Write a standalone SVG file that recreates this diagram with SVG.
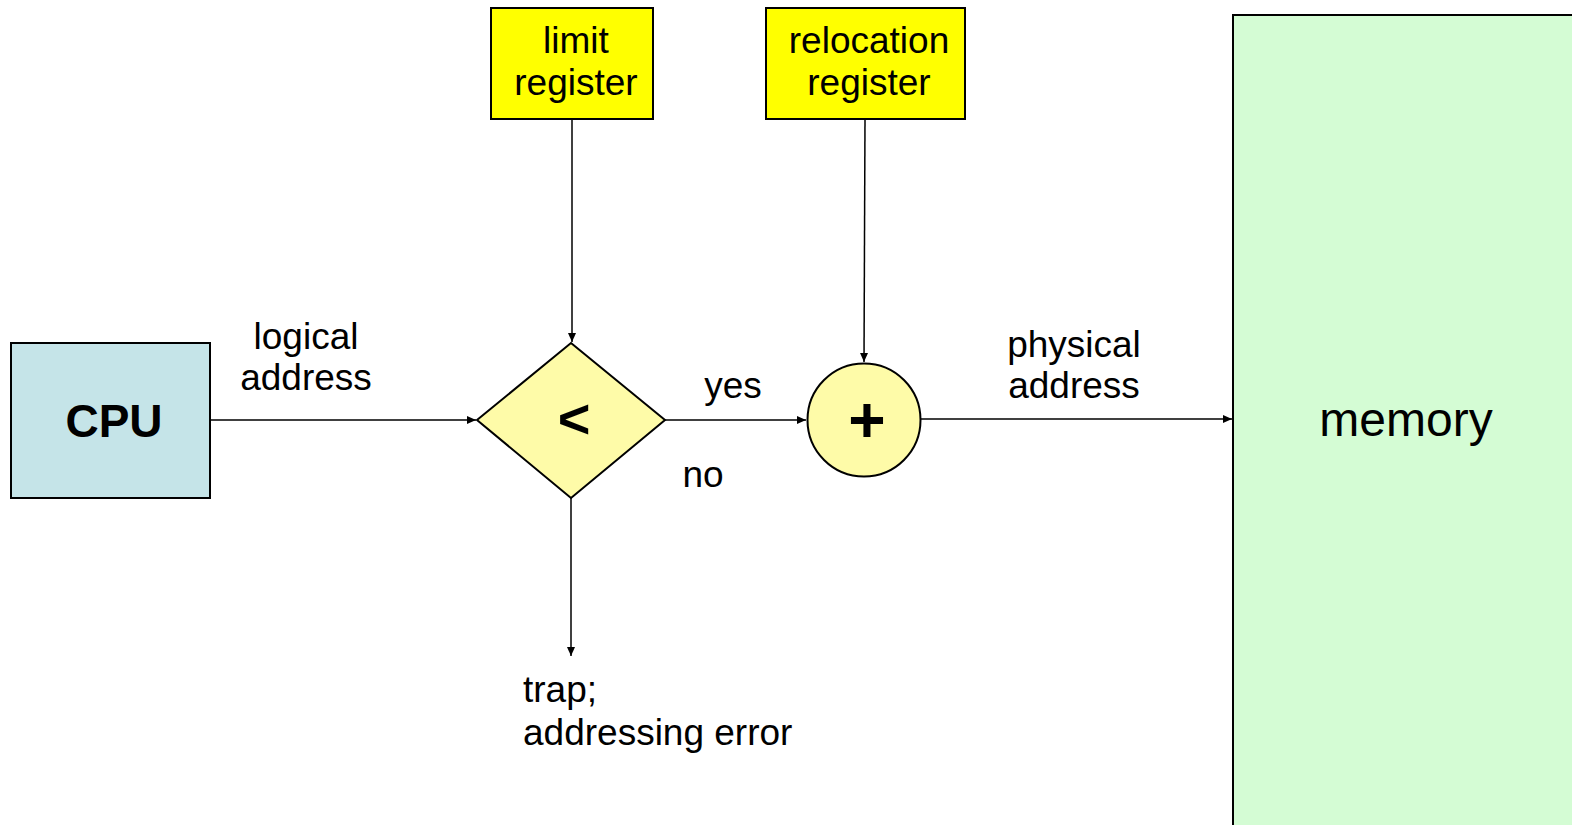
<svg xmlns="http://www.w3.org/2000/svg" width="1572" height="825" viewBox="0 0 1572 825">
<defs>
<style>
.t{font-family:"Liberation Sans",Arial,sans-serif;font-size:37px;fill:#000}
.b{font-family:"Liberation Sans",Arial,sans-serif;font-weight:bold;fill:#000}
.n{stroke:#000;stroke-width:2}
.c{stroke:#000;stroke-width:1.5;fill:none;marker-end:url(#ah)}
</style>
<marker id="ah" markerWidth="10" markerHeight="8" refX="9" refY="4" orient="auto" markerUnits="userSpaceOnUse">
<path d="M0,0 L9,4 L0,8 z" fill="#000"/>
</marker>
</defs>
<rect width="1572" height="825" fill="#fff"/>
<g id="connectors">
<line class="c" x1="210" y1="420" x2="476" y2="420"/>
<line class="c" x1="572" y1="119" x2="572" y2="342"/>
<line class="c" x1="865" y1="119" x2="864" y2="362"/>
<line class="c" x1="665" y1="420" x2="806" y2="420"/>
<line class="c" x1="920" y1="419" x2="1232" y2="419"/>
<line class="c" x1="571" y1="498" x2="571" y2="656"/>
</g>
<g id="cpu">
<rect class="n" x="11" y="343" width="199" height="155" fill="#c5e4e8"/>
<text class="b" x="114" y="437" font-size="46" text-anchor="middle">CPU</text>
</g>
<g id="limit">
<rect class="n" x="491" y="8" width="162" height="111" fill="#ffff00"/>
<text class="t" x="576" y="53" text-anchor="middle">limit</text>
<text class="t" x="576" y="95" text-anchor="middle">register</text>
</g>
<g id="relocation">
<rect class="n" x="766" y="8" width="199" height="111" fill="#ffff00"/>
<text class="t" x="869" y="53" text-anchor="middle">relocation</text>
<text class="t" x="869" y="95" text-anchor="middle">register</text>
</g>
<g id="compare">
<polygon class="n" points="571,343 665,420 571,498 477,420" fill="#fefba8"/>
<text class="b" x="574" y="438" font-size="56" text-anchor="middle">&lt;</text>
</g>
<g id="add">
<circle class="n" cx="864" cy="420" r="56.5" fill="#fefba8"/>
<text class="b" x="867" y="442" font-size="64" text-anchor="middle">+</text>
</g>
<g id="memory">
<rect class="n" x="1233" y="15" width="345" height="815" fill="#d4fcd4"/>
<text x="1406" y="436" font-family="Liberation Sans,Arial,sans-serif" font-size="48" text-anchor="middle">memory</text>
</g>
<g id="labels">
<text class="t" x="306" y="349" text-anchor="middle">logical</text>
<text class="t" x="306" y="390" text-anchor="middle">address</text>
<text class="t" x="733" y="398" text-anchor="middle">yes</text>
<text class="t" x="703" y="487" text-anchor="middle">no</text>
<text class="t" x="1074" y="357" text-anchor="middle">physical</text>
<text class="t" x="1074" y="398" text-anchor="middle">address</text>
<text class="t" x="523" y="702">trap;</text>
<text class="t" x="523" y="745">addressing error</text>
</g>
</svg>
